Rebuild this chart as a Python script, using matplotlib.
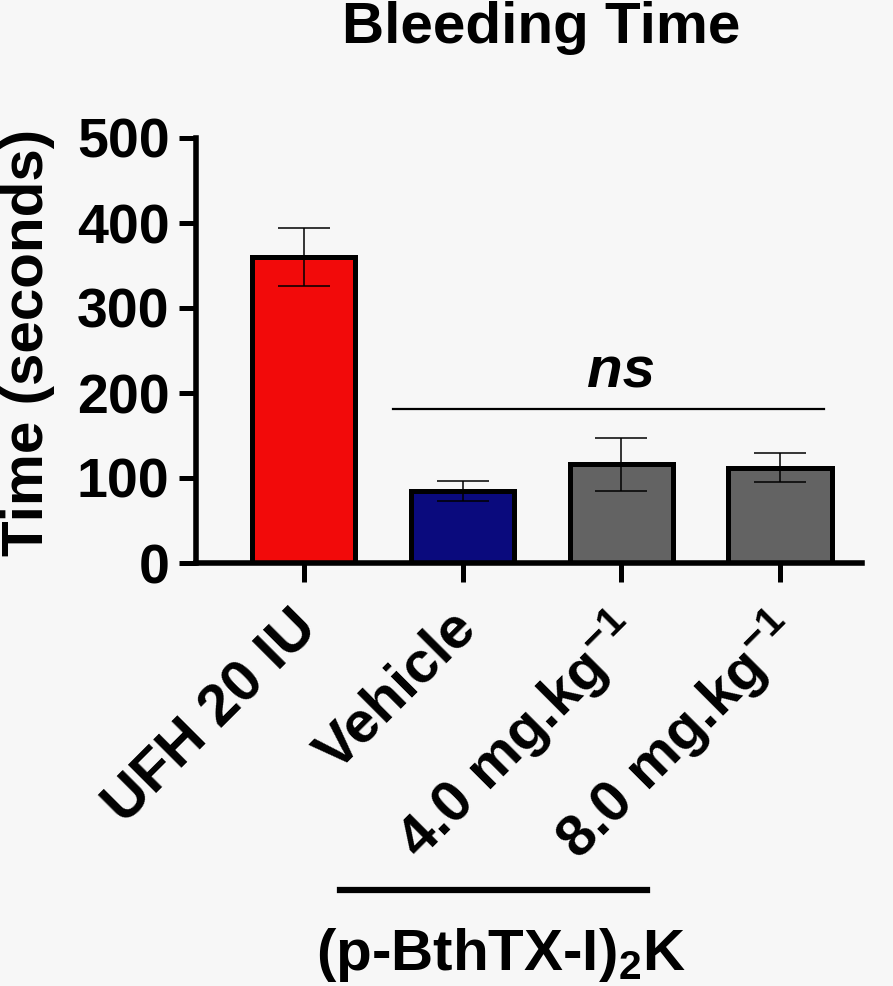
import numpy as np
import matplotlib
matplotlib.use("Agg")
import matplotlib.pyplot as plt
import matplotlib.transforms as mtransforms

plt.rcParams['font.family'] = ['Liberation Sans', 'DejaVu Sans']
plt.rcParams['font.weight'] = 'bold'
plt.rcParams['mathtext.fontset'] = 'custom'
plt.rcParams['mathtext.rm'] = 'Liberation Sans:bold'
plt.rcParams['mathtext.bf'] = 'Liberation Sans:bold'
plt.rcParams['mathtext.it'] = 'Liberation Sans:bold:italic'

# Bleeding time data (mean +/- SEM, seconds)
groups = ['UFH 20 IU', 'Vehicle', '4.0 mg.kg$^{-1}$', '8.0 mg.kg$^{-1}$']
means = [360, 85, 116, 112]
sem = [34, 12, 31, 17]
colors = ['#f20a0a', '#0a0a7d', '#636363', '#636363']

bg = '#f7f7f7'
fig = plt.figure(figsize=(8.93, 9.86), dpi=100, facecolor=bg)
W, H = 893, 986
ax = fig.add_axes([196 / W, (H - 563) / H, (862 - 196) / W, (563 - 138) / H])
ax.set_facecolor(bg)

x = np.arange(len(groups))
ax.bar(x, means, width=0.65, color=colors, edgecolor='black', linewidth=3.6, zorder=2)
ax.errorbar(x, means, yerr=sem, fmt='none', ecolor='black', elinewidth=1.1,
            capsize=19, capthick=1.1, zorder=3)

ax.set_xlim(-0.68, 3.517)
ax.set_ylim(0, 500)
ax.set_yticks([0, 100, 200, 300, 400, 500])
ax.set_xticks(x)
ax.set_xticklabels(groups, rotation=45, ha='right', rotation_mode='anchor',
                   fontsize=42)

for s in ['top', 'right']:
    ax.spines[s].set_visible(False)
for s in ['left', 'bottom']:
    ax.spines[s].set_linewidth(4)
ax.tick_params(axis='y', direction='out', width=3.6, length=12, pad=7, labelsize=40)
ax.tick_params(axis='x', direction='out', width=3.6, length=14, pad=13)

# nudge rotated labels a bit left, as in the original layout
shift = mtransforms.ScaledTranslation(-14 / 100, 0, fig.dpi_scale_trans)
for lbl in ax.get_xticklabels():
    lbl.set_transform(lbl.get_transform() + shift)

ax.set_ylabel('Time (seconds)', fontsize=42, fontweight='bold')
ax.yaxis.set_label_coords(-0.212, 0.52)

ax.text(0.518, 1.2235, 'Bleeding Time', transform=ax.transAxes, ha='center',
        va='baseline', fontsize=42, fontweight='bold')

# ns comparison bar
ax.plot([0.56, 3.28], [181, 181], color='black', lw=1.6, zorder=3)
ax.text(2.0, 207, 'ns', ha='center', va='baseline', fontsize=42,
        fontweight='bold', fontstyle='italic')

# group bracket under x labels
trans = mtransforms.blended_transform_factory(ax.transData, ax.transAxes)
ax.plot([0.227, 2.16], [-0.769, -0.769], color='black', lw=4.5,
        transform=trans, clip_on=False)
ax.text(1.24, -0.958, '(p-BthTX-I)$_2$K', transform=trans, ha='center',
        va='baseline', fontsize=42, fontweight='bold')

fig.savefig('out.png', dpi=100, facecolor=bg)
